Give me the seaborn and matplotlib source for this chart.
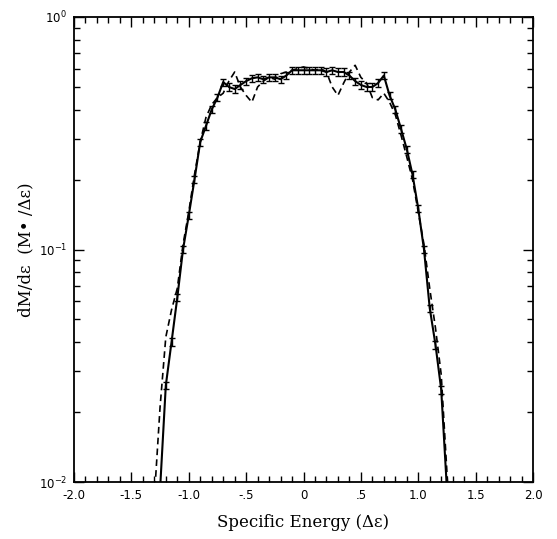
import numpy as np
import pandas as pd
import matplotlib
matplotlib.use("Agg")
import matplotlib.pyplot as plt
from matplotlib.ticker import MultipleLocator, FixedLocator, LogLocator, NullFormatter
import seaborn as sns

# ---- data ----
solid_x = [-1.25, -1.20, -1.15, -1.10, -1.05, -1.00, -0.95, -0.90, -0.85, -0.80,
           -0.75, -0.70, -0.65, -0.60, -0.55, -0.50, -0.45, -0.40, -0.35, -0.30,
           -0.25, -0.20, -0.15, -0.10, -0.05, 0.00, 0.05, 0.10, 0.15, 0.20,
           0.25, 0.30, 0.35, 0.40, 0.45, 0.50, 0.55, 0.60, 0.65, 0.70,
           0.75, 0.80, 0.85, 0.90, 0.95, 1.00, 1.05, 1.10, 1.15, 1.20, 1.25]
solid_y = [0.0093, 0.026, 0.040, 0.062, 0.10, 0.14, 0.20, 0.29, 0.34, 0.40,
           0.45, 0.525, 0.50, 0.49, 0.51, 0.53, 0.545, 0.55, 0.54, 0.55,
           0.55, 0.54, 0.56, 0.59, 0.59, 0.59, 0.59, 0.59, 0.59, 0.58,
           0.59, 0.58, 0.58, 0.56, 0.53, 0.51, 0.50, 0.50, 0.52, 0.56,
           0.46, 0.40, 0.33, 0.27, 0.21, 0.15, 0.10, 0.056, 0.039, 0.025, 0.0093]
solid_err = [0.0004, 0.0010, 0.0015, 0.0022, 0.0035, 0.005, 0.007, 0.010, 0.012, 0.014,
             0.016, 0.018, 0.018, 0.018, 0.019, 0.019, 0.020, 0.020, 0.020, 0.020,
             0.020, 0.020, 0.020, 0.021, 0.021, 0.021, 0.021, 0.021, 0.021, 0.021,
             0.021, 0.021, 0.021, 0.020, 0.019, 0.019, 0.018, 0.018, 0.019, 0.020,
             0.016, 0.014, 0.012, 0.010, 0.007, 0.005, 0.0035, 0.0020, 0.0015, 0.0010, 0.0004]

dash_x = [-1.30, -1.25, -1.20, -1.15, -1.10, -1.05, -1.00, -0.95, -0.90, -0.85,
          -0.80, -0.75, -0.70, -0.65, -0.60, -0.55, -0.50, -0.45, -0.40, -0.35,
          -0.30, -0.25, -0.20, -0.15, -0.10, -0.05, 0.00, 0.05, 0.10, 0.15,
          0.20, 0.25, 0.30, 0.35, 0.40, 0.45, 0.50, 0.55, 0.60, 0.65,
          0.70, 0.75, 0.80, 0.85, 0.90, 0.95, 1.00, 1.05, 1.10, 1.15,
          1.20, 1.25, 1.30]
dash_y = [0.0085, 0.021, 0.042, 0.055, 0.068, 0.105, 0.145, 0.21, 0.29, 0.37,
          0.42, 0.45, 0.47, 0.53, 0.58, 0.50, 0.46, 0.43, 0.50, 0.53,
          0.55, 0.54, 0.57, 0.58, 0.59, 0.60, 0.61, 0.60, 0.59, 0.60,
          0.58, 0.50, 0.46, 0.52, 0.58, 0.62, 0.55, 0.52, 0.45, 0.44,
          0.47, 0.43, 0.38, 0.31, 0.25, 0.20, 0.145, 0.105, 0.068, 0.046,
          0.029, 0.011, 0.005]

xtick_vals = [-2.0, -1.5, -1.0, -0.5, 0.0, 0.5, 1.0, 1.5, 2.0]
xtick_labels = ["-2.0", "-1.5", "-1.0", "-.5", "0", ".5", "1.0", "1.5", "2.0"]

df_solid = pd.DataFrame({"energy": solid_x, "dmde": solid_y})
df_dash = pd.DataFrame({"energy": dash_x, "dmde": dash_y})

sns.set_style("ticks")
plt.rcParams["font.family"] = ["DejaVu Sans"]
plt.rcParams["mathtext.fontset"] = "dejavusans"

fig = plt.figure(figsize=(5.57, 5.39), dpi=100)
ax = fig.add_axes([74 / 557, 1 - 482 / 539, (533 - 74) / 557, (482 - 17) / 539])

sns.lineplot(data=df_dash, x="energy", y="dmde", ax=ax, color="black",
             linewidth=1.2, linestyle=(0, (4, 2.5)), sort=False)
sns.lineplot(data=df_solid, x="energy", y="dmde", ax=ax, color="black",
             linewidth=1.5, sort=False)
ax.errorbar(solid_x, solid_y, yerr=solid_err, fmt="none", ecolor="black",
            elinewidth=1.0, capsize=2.0, capthick=1.0)

ax.set_yscale("log")
ax.set_xlim(-2, 2)
ax.set_ylim(1e-2, 1e0)

ax.xaxis.set_major_locator(FixedLocator(xtick_vals))
ax.set_xticklabels(xtick_labels)
ax.xaxis.set_minor_locator(MultipleLocator(0.1))
ax.yaxis.set_major_locator(LogLocator(base=10, numticks=5))
ax.yaxis.set_minor_locator(LogLocator(base=10, subs=np.arange(2, 10), numticks=20))
ax.yaxis.set_minor_formatter(NullFormatter())

ax.tick_params(which="both", direction="in", top=True, right=True, color="black",
               labelsize=8.5, labelcolor="black")
ax.tick_params(which="major", length=7, width=1.0, pad=5)
ax.tick_params(which="minor", length=4, width=1.0)
for s in ax.spines.values():
    s.set_linewidth(1.3)
    s.set_color("black")

ax.set_xlabel("Specific Energy (Δε)", family="DejaVu Serif", fontsize=12,
              labelpad=9, color="black")
ax.set_ylabel("dM/dε  (M• /Δε)", family="DejaVu Serif", fontsize=12,
              labelpad=3, color="black")

fig.savefig("out.png", dpi=100, facecolor="white")
